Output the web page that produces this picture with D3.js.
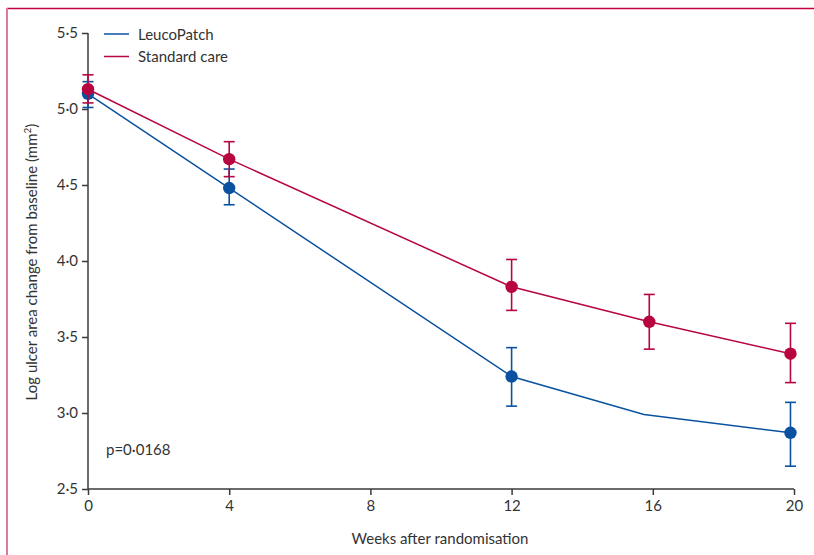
<!DOCTYPE html>
<html>
<head>
<meta charset="utf-8">
<script src="https://cdn.jsdelivr.net/npm/d3@7"></script>
<style>
  body { margin: 0; background: #fff; }
  svg { display: block; font-family: Lato, "Open Sans", sans-serif; }
</style>
</head>
<body>
<div id="chart"></div>
<script>
// data
const xTicks = [0, 4, 8, 12, 16, 20];
const yTicks = [2.5, 3.0, 3.5, 4.0, 4.5, 5.0, 5.5];

const leucoWeeks = [0, 4, 12, 15.75, 19.9];
const leucoMean = [5.10, 4.48, 3.24, 2.99, 2.87];
const leucoLow = [5.01, 4.37, 3.045, null, 2.65];
const leucoHigh = [5.18, 4.605, 3.43, null, 3.07];

const stdWeeks = [0, 4, 12, 15.9, 19.9];
const stdMean = [5.13, 4.67, 3.83, 3.60, 3.39];
const stdLow = [5.04, 4.555, 3.675, 3.42, 3.20];
const stdHigh = [5.225, 4.785, 4.01, 3.78, 3.59];

const seriesNames = ["LeucoPatch", "Standard care"];
const pValueText = "p=0\u00b70168";

const width = 814, height = 555;
const blue = "#0a52a0", red = "#b7063f", axisCol = "#3a3a3a";

const svg = d3.select("#chart").append("svg")
    .attr("width", width)
    .attr("height", height);

// frame lines of the figure panel
svg.append("line")
    .attr("x1", 7).attr("x2", width).attr("y1", 8.5).attr("y2", 8.5)
    .attr("stroke", "#c5003e").attr("stroke-width", 1.6);
svg.append("line")
    .attr("x1", 7).attr("x2", 7).attr("y1", 8).attr("y2", height)
    .attr("stroke", "#dd7b9a").attr("stroke-width", 2);

const xScale = d3.scaleLinear().domain([0, 20]).range([88, 794]);
const yScale = d3.scaleLinear().domain([2.5, 5.5]).range([489, 33]);

const fmt = function(v) {
    return d3.format(".1f")(v).replace(".", "\u00b7");
};

const xAxis = d3.axisBottom(xScale).tickValues(xTicks).tickSize(6).tickPadding(5)
    .tickFormat(d3.format("d"));
const yAxis = d3.axisLeft(yScale).tickValues(yTicks).tickSize(6).tickPadding(4)
    .tickFormat(fmt);

const xG = svg.append("g")
    .attr("transform", `translate(0, ${yScale(2.5)})`)
    .call(xAxis);
const yG = svg.append("g")
    .attr("transform", `translate(${xScale(0)}, 0)`)
    .call(yAxis);

[xG, yG].forEach(function(g) {
    g.select(".domain").attr("stroke", axisCol).attr("stroke-width", 1.5);
    g.selectAll(".tick line").attr("stroke", axisCol).attr("stroke-width", 1.5);
    g.selectAll(".tick text")
        .attr("fill", "#333")
        .attr("font-size", 15)
        .attr("font-family", "Lato, 'Open Sans', sans-serif");
});
// keep domain without end ticks
xG.select(".domain").attr("d", `M${xScale(0)},0H${xScale(20)}`);
yG.select(".domain").attr("d", `M0,${yScale(2.5)}V${yScale(5.5)}`);

// axis titles
svg.append("text")
    .attr("x", 440).attr("y", 544)
    .attr("text-anchor", "middle")
    .attr("font-size", 15)
    .attr("fill", "#333")
    .text("Weeks after randomisation");

const yTitle = svg.append("text")
    .attr("transform", "translate(37, 262) rotate(-90)")
    .attr("text-anchor", "middle")
    .attr("font-size", 15)
    .attr("fill", "#333");
yTitle.append("tspan").text("Log ulcer area change from baseline (mm");
yTitle.append("tspan").attr("font-size", 10).attr("dy", -6).text("2");
yTitle.append("tspan").attr("dy", 6).text(")");

svg.append("text")
    .attr("x", 106).attr("y", 455)
    .attr("font-size", 15)
    .attr("fill", "#333")
    .text(pValueText);

// series
const makeRows = function(weeks, mean, low, high) {
    return weeks.map(function(w, i) {
        return {week: w, mean: mean[i], low: low[i], high: high[i]};
    });
};

const series = [
    {name: seriesNames[0], color: blue, rows: makeRows(leucoWeeks, leucoMean, leucoLow, leucoHigh)},
    {name: seriesNames[1], color: red, rows: makeRows(stdWeeks, stdMean, stdLow, stdHigh)}
];

const line = d3.line()
    .x(function(d) { return xScale(d.week); })
    .y(function(d) { return yScale(d.mean); });

series.forEach(function(s) {
    const g = svg.append("g");
    g.append("path")
        .datum(s.rows)
        .attr("d", line)
        .attr("fill", "none")
        .attr("stroke", s.color)
        .attr("stroke-width", 1.5);

    const withBars = s.rows.filter(function(d) { return d.low !== null; });

    const bars = g.selectAll(".err")
        .data(withBars)
        .enter()
        .append("g")
        .attr("stroke", s.color)
        .attr("stroke-width", 1.6);
    bars.append("line")
        .attr("x1", function(d) { return xScale(d.week); })
        .attr("x2", function(d) { return xScale(d.week); })
        .attr("y1", function(d) { return yScale(d.low); })
        .attr("y2", function(d) { return yScale(d.high); });
    bars.append("line")
        .attr("x1", function(d) { return xScale(d.week) - 5.5; })
        .attr("x2", function(d) { return xScale(d.week) + 5.5; })
        .attr("y1", function(d) { return yScale(d.low); })
        .attr("y2", function(d) { return yScale(d.low); });
    bars.append("line")
        .attr("x1", function(d) { return xScale(d.week) - 5.5; })
        .attr("x2", function(d) { return xScale(d.week) + 5.5; })
        .attr("y1", function(d) { return yScale(d.high); })
        .attr("y2", function(d) { return yScale(d.high); });

    g.selectAll("circle")
        .data(withBars)
        .enter()
        .append("circle")
        .attr("cx", function(d) { return xScale(d.week); })
        .attr("cy", function(d) { return yScale(d.mean); })
        .attr("r", 6.2)
        .attr("fill", s.color);
});

// legend
const legend = svg.append("g");
series.forEach(function(s, i) {
    const ly = 34 + i * 22.5;
    legend.append("line")
        .attr("x1", 104).attr("x2", 129)
        .attr("y1", ly).attr("y2", ly)
        .attr("stroke", s.color)
        .attr("stroke-width", 1.5);
    legend.append("text")
        .attr("x", 138).attr("y", ly + 5.5)
        .attr("font-size", 15)
        .attr("fill", "#333")
        .text(s.name);
});
</script>
</body>
</html>
